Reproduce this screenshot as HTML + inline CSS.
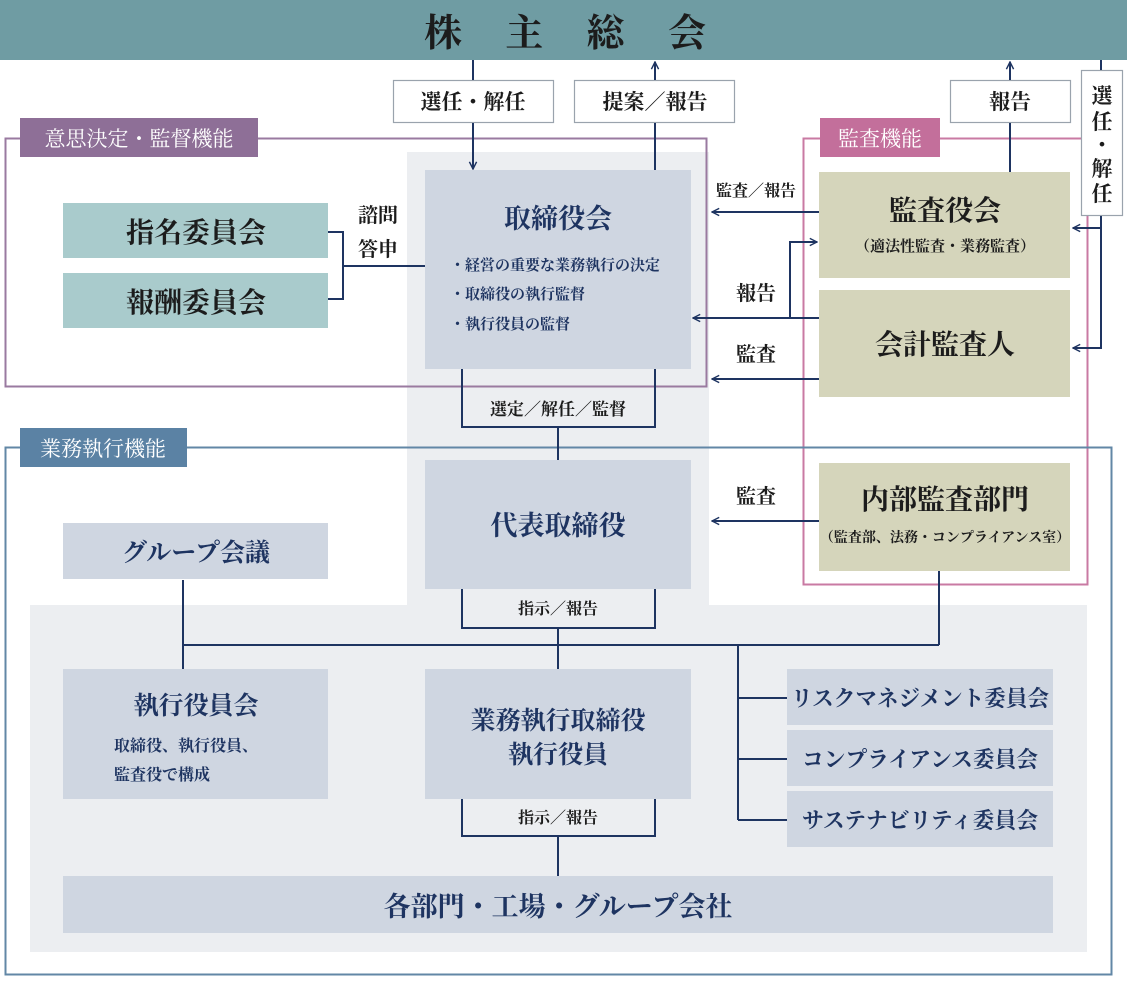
<!DOCTYPE html>
<html><head><meta charset="utf-8"><style>
html,body{margin:0;padding:0;background:#fff}
svg{display:block}
text{font-family:"Liberation Serif","Noto Serif CJK JP","Noto Serif CJK SC",serif}
.b{font-weight:bold}
</style></head><body>
<svg width="1127" height="985" viewBox="0 0 1127 985" xmlns="http://www.w3.org/2000/svg">
<defs>
<marker id="a" viewBox="0 0 10 10" refX="9" refY="5" markerWidth="9" markerHeight="9" orient="auto-start-reverse" markerUnits="userSpaceOnUse">
<path d="M1,1 L9,5 L1,9" fill="none" stroke="#1e3461" stroke-width="1.6"/></marker>
</defs>
<!-- header -->
<rect x="0" y="0" width="1127" height="60" fill="#6f9ca3"/>
<text x="565" y="46" font-size="38" text-anchor="middle" fill="#1c1c1c" font-weight="bold" textLength="282" lengthAdjust="spacing">株主総会</text>

<!-- backgrounds -->
<rect x="407" y="152" width="302" height="455" fill="#eceef1"/>
<rect x="30" y="605" width="1057" height="347" fill="#eceef1"/>

<!-- frames -->
<rect x="5.5" y="138.5" width="701" height="248" fill="none" stroke="#9a7aa0" stroke-width="2"/>
<rect x="803.5" y="138.5" width="284" height="446" fill="none" stroke="#c97aa3" stroke-width="2"/>
<rect x="5.5" y="447.5" width="1106" height="527" fill="none" stroke="#6287a6" stroke-width="2"/>
<rect x="20" y="118" width="238" height="39" fill="#8e6f97"/>
<text x="139" y="146" font-size="21" text-anchor="middle" fill="#fff">意思決定・監督機能</text>
<rect x="820" y="118" width="120" height="39" fill="#c36f9b"/>
<text x="880" y="146" font-size="21" text-anchor="middle" fill="#fff">監査機能</text>
<rect x="20" y="428" width="167" height="39" fill="#5b82a4"/>
<text x="103" y="456" font-size="21" text-anchor="middle" fill="#fff">業務執行機能</text>

<!-- top label boxes -->
<g fill="#fff" stroke="#9aa3ad" stroke-width="1.2">
<rect x="393.5" y="80.5" width="160" height="42"/>
<rect x="574.5" y="80.5" width="160" height="42"/>
<rect x="950.5" y="80.5" width="120" height="42"/>
<rect x="1081.5" y="70.5" width="41" height="145"/>
</g>
<g stroke="#1e3461" stroke-width="2" fill="none">
<line x1="473" y1="60" x2="473" y2="80"/>
<line x1="473" y1="123" x2="473" y2="169" marker-end="url(#a)"/>
<line x1="655" y1="170" x2="655" y2="123"/>
<line x1="655" y1="80" x2="655" y2="62" marker-end="url(#a)"/>
<line x1="1010" y1="172" x2="1010" y2="123"/>
<line x1="1010" y1="80" x2="1010" y2="62" marker-end="url(#a)"/>
<line x1="1101" y1="60" x2="1101" y2="70"/>
<polyline points="1101,216 1101,348 1073,348" marker-end="url(#a)"/>
<line x1="1101" y1="228" x2="1073" y2="228" marker-end="url(#a)"/>
</g>
<g font-size="21" fill="#1c1c1c" text-anchor="middle" class="b">
<text x="473" y="109">選任・解任</text>
<text x="655" y="109">提案／報告</text>
<text x="1010" y="109">報告</text>
<text x="1102" y="103">選</text><text x="1102" y="129">任</text><text x="1102" y="152">・</text><text x="1102" y="176">解</text><text x="1102" y="201">任</text>
</g>

<!-- committees -->
<rect x="63" y="203" width="265" height="55" fill="#a9cbcc"/>
<rect x="63" y="273" width="265" height="55" fill="#a9cbcc"/>
<text x="196" y="242" font-size="28" text-anchor="middle" fill="#1c1c1c" class="b">指名委員会</text>
<text x="196" y="312" font-size="28" text-anchor="middle" fill="#1c1c1c" class="b">報酬委員会</text>
<g stroke="#1e3461" stroke-width="2" fill="none">
<polyline points="328,232 343,232 343,299 328,299"/>
<line x1="343" y1="266" x2="425" y2="266"/>
</g>
<text x="378" y="222" font-size="20" text-anchor="middle" fill="#1c1c1c" class="b">諮問</text>
<text x="378" y="256" font-size="20" text-anchor="middle" fill="#1c1c1c" class="b">答申</text>

<!-- board -->
<rect x="425" y="170" width="266" height="199" fill="#cfd6e1"/>
<text x="558" y="228" font-size="27" text-anchor="middle" fill="#1e3461" class="b">取締役会</text>
<g font-size="15" fill="#1e3461" class="b">
<text x="450" y="270">・経営の重要な業務執行の決定</text>
<text x="450" y="299">・取締役の執行監督</text>
<text x="450" y="329">・執行役員の監督</text>
</g>

<!-- audit -->
<rect x="819" y="172" width="251" height="106" fill="#d5d5bb"/>
<rect x="819" y="290" width="251" height="107" fill="#d5d5bb"/>
<rect x="819" y="463" width="251" height="108" fill="#d5d5bb"/>
<text x="945" y="220" font-size="28" text-anchor="middle" fill="#1c1c1c" class="b">監査役会</text>
<text x="945" y="251" font-size="15" text-anchor="middle" fill="#1c1c1c" class="b">（適法性監査・業務監査）</text>
<text x="945" y="354" font-size="28" text-anchor="middle" fill="#1c1c1c" class="b">会計監査人</text>
<text x="945" y="509" font-size="28" text-anchor="middle" fill="#1c1c1c" class="b">内部監査部門</text>
<text x="945" y="542" font-size="14" text-anchor="middle" fill="#1c1c1c" class="b">（監査部、法務・コンプライアンス室）</text>
<g stroke="#1e3461" stroke-width="2" fill="none">
<line x1="819" y1="212" x2="712" y2="212" marker-end="url(#a)"/>
<line x1="819" y1="318" x2="693" y2="318" marker-end="url(#a)"/>
<polyline points="790,318 790,242 817,242" marker-end="url(#a)"/>
<line x1="819" y1="379" x2="712" y2="379" marker-end="url(#a)"/>
<line x1="819" y1="521" x2="712" y2="521" marker-end="url(#a)"/>
</g>
<g font-size="18" fill="#1c1c1c" text-anchor="middle" class="b">
<text x="756" y="196" font-size="16">監査／報告</text>
<text x="756" y="300" font-size="20">報告</text>
<text x="756" y="361" font-size="20">監査</text>
<text x="756" y="503" font-size="20">監査</text>
</g>

<!-- connectors -->
<g stroke="#1e3461" stroke-width="2" fill="none">
<polyline points="462,369 462,427 655,427 655,369"/>
<line x1="558" y1="427" x2="558" y2="460"/>
<polyline points="462,589 462,628 655,628 655,589"/>
<line x1="558" y1="628" x2="558" y2="669"/>
<line x1="183" y1="645" x2="939" y2="645"/>
<line x1="183" y1="580" x2="183" y2="669"/>
<line x1="939" y1="571" x2="939" y2="645"/>
<line x1="738" y1="645" x2="738" y2="820"/>
<line x1="738" y1="698" x2="787" y2="698"/>
<line x1="738" y1="759" x2="787" y2="759"/>
<line x1="738" y1="820" x2="787" y2="820"/>
<polyline points="462,799 462,836 655,836 655,799"/>
<line x1="558" y1="836" x2="558" y2="876"/>
</g>
<text x="558" y="415" font-size="17" text-anchor="middle" fill="#1c1c1c" class="b">選定／解任／監督</text>
<text x="558" y="614" font-size="16" text-anchor="middle" fill="#1c1c1c" class="b">指示／報告</text>
<text x="558" y="823" font-size="16" text-anchor="middle" fill="#1c1c1c" class="b">指示／報告</text>

<!-- exec -->
<rect x="425" y="460" width="266" height="129" fill="#cfd6e1"/>
<text x="558" y="535" font-size="27" text-anchor="middle" fill="#1e3461" class="b">代表取締役</text>
<rect x="63" y="523" width="265" height="56" fill="#cfd6e1"/>
<text x="196" y="561" font-size="25" text-anchor="middle" fill="#1e3461" class="b">グループ会議</text>
<rect x="63" y="669" width="265" height="130" fill="#cfd6e1"/>
<text x="196" y="714" font-size="25" text-anchor="middle" fill="#1e3461" class="b">執行役員会</text>
<text x="114" y="751" font-size="16" fill="#1e3461" class="b">取締役、執行役員、</text>
<text x="114" y="780" font-size="16" fill="#1e3461" class="b">監査役で構成</text>
<rect x="425" y="669" width="266" height="130" fill="#cfd6e1"/>
<text x="558" y="729" font-size="25" text-anchor="middle" fill="#1e3461" class="b">業務執行取締役</text>
<text x="558" y="763" font-size="25" text-anchor="middle" fill="#1e3461" class="b">執行役員</text>
<rect x="787" y="669" width="266" height="56" fill="#cfd6e1"/>
<rect x="787" y="730" width="266" height="56" fill="#cfd6e1"/>
<rect x="787" y="791" width="266" height="56" fill="#cfd6e1"/>
<text x="920" y="706" font-size="22" text-anchor="middle" fill="#1e3461" class="b" textLength="258" lengthAdjust="spacingAndGlyphs">リスクマネジメント委員会</text>
<text x="920" y="767" font-size="22" text-anchor="middle" fill="#1e3461" class="b" textLength="236" lengthAdjust="spacingAndGlyphs">コンプライアンス委員会</text>
<text x="920" y="828" font-size="22" text-anchor="middle" fill="#1e3461" class="b" textLength="236" lengthAdjust="spacingAndGlyphs">サステナビリティ委員会</text>
<rect x="63" y="876" width="990" height="57" fill="#cfd6e1"/>
<text x="558" y="916" font-size="27" text-anchor="middle" fill="#1e3461" class="b">各部門・工場・グループ会社</text>
</svg>
</body></html>
